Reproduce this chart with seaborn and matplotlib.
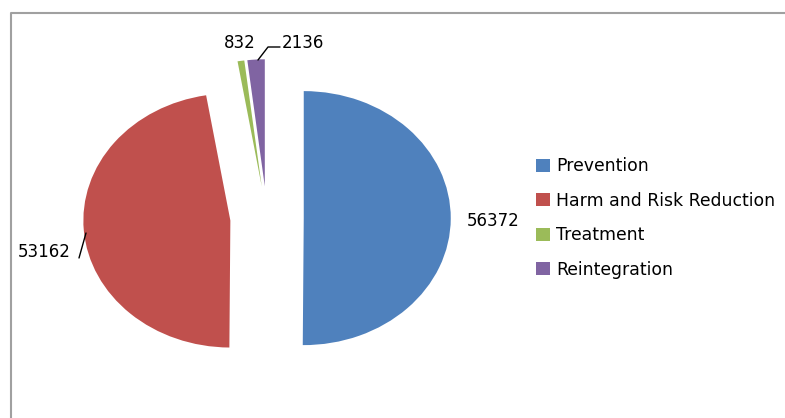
import matplotlib
matplotlib.use("Agg")
import matplotlib.pyplot as plt
from matplotlib.lines import Line2D
from matplotlib.patches import Patch
import seaborn as sns

# data
categories = ["Prevention", "Harm and Risk Reduction", "Treatment", "Reintegration"]
values = [56372, 53162, 832, 2136]
colors = ["#4F81BD", "#C0504D", "#9BBB59", "#8064A2"]

sns.set_style("white")
plt.rcParams["font.family"] = ["DejaVu Sans"]

W, H = 785, 418
fig = plt.figure(figsize=(W / 100, H / 100), dpi=100)

# pie centre at (267, 218) px, radii 147 x 127 px
cx, cy, rx, ry = 267, 218, 147, 127
xlim, ylim = (-1.6, 1.6), (-1.5, 1.5)
left = cx + xlim[0] * rx
top = cy - ylim[1] * ry
ax = fig.add_axes([left / W, (H - (top + (ylim[1] - ylim[0]) * ry)) / H,
                   (xlim[1] - xlim[0]) * rx / W, (ylim[1] - ylim[0]) * ry / H])

wedges, _ = ax.pie(values, colors=sns.color_palette(colors), startangle=90,
                   counterclock=False, explode=[0.25] * len(values),
                   wedgeprops=dict(linewidth=0))
ax.set_aspect("auto")
ax.set_xlim(*xlim)
ax.set_ylim(*ylim)
ax.axis("off")


def px(x, y):
    # pixel position -> data coords of the pie axes
    return (x - cx) / rx, (cy - y) / ry


fs = 12
label_pos = [(493, 221), (44, 252), (240, 43), (303, 43)]
for v, (x, y) in zip(values, label_pos):
    ax.text(*px(x, y), str(v), ha="center", va="center", fontsize=fs, color="black")

# leader lines
for pts in [[(79, 258), (86, 233)], [(258, 60), (268, 47), (280, 47)]]:
    d = [px(x, y) for x, y in pts]
    ax.plot([p[0] for p in d], [p[1] for p in d], color="black", lw=1)

handles = [Patch(facecolor=c, edgecolor="none") for c in colors]
fig.legend(handles, categories, loc="center left",
           bbox_to_anchor=(536 / W, 1 - 218 / H), frameon=False,
           fontsize=12.4, labelcolor="black", handlelength=0.8, handleheight=0.8,
           handletextpad=0.38, labelspacing=0.95, borderpad=0, borderaxespad=0)

# chart area border (left and top)
fig.add_artist(Line2D([11 / W, 11 / W, 1], [0, 1 - 13 / H, 1 - 13 / H],
                      transform=fig.transFigure, color="#A0A0A0", lw=1.5))

fig.savefig("out.png", dpi=100)
